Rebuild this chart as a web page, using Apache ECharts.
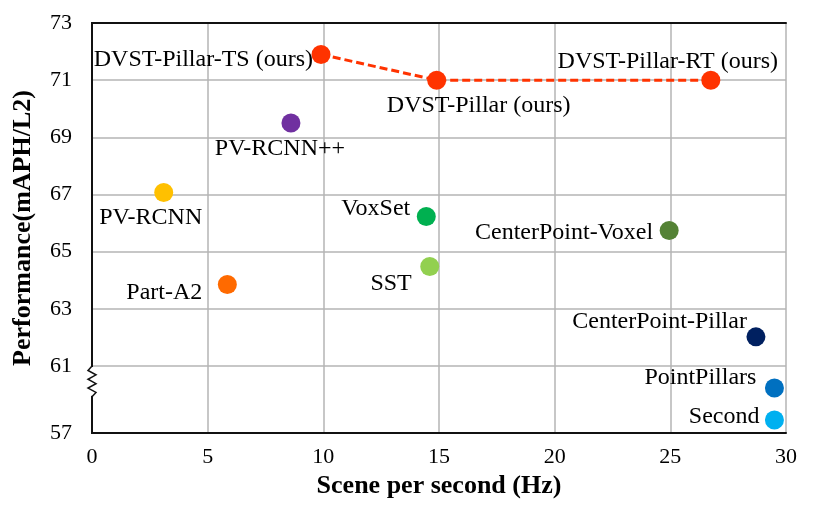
<!DOCTYPE html>
<html>
<head>
  <meta charset="utf-8">
  <title>Speed vs performance</title>
  <script src="https://cdn.jsdelivr.net/npm/echarts@6/dist/echarts.min.js"></script>
</head>
<body style="margin:0;background:#fff">
<div id="main" style="width:828px;height:513px;"></div>

<script type="text/javascript">
  // our models (joined by the dashed line)
  const oursNames = ['DVST-Pillar-TS (ours)', 'DVST-Pillar (ours)', 'DVST-Pillar-RT (ours)'];
  const oursFps = [9.9, 14.9, 26.75];
  const oursPerf = [71.9, 71.0, 71.0];

  // other detectors
  const otherNames = ['PV-RCNN++', 'PV-RCNN', 'VoxSet', 'CenterPoint-Voxel', 'SST', 'Part-A2',
    'CenterPoint-Pillar', 'PointPillars', 'Second'];
  const otherFps = [8.6, 3.1, 14.45, 24.95, 14.6, 5.85, 28.7, 29.5, 29.5];
  const otherPerf = [69.5, 67.07, 66.23, 65.74, 64.48, 63.85, 62.02, 59.69, 57.78];

  const yTickLabels = [57, 61, 63, 65, 67, 69, 71, 73];

  // colours / label placement (align, dx, dy from point)
  const otherColors = ['#7030A0', '#FFC000', '#00B050', '#548235', '#92D050', '#FF6A00',
    '#002060', '#0070C0', '#00B0F0'];
  const oursLabelPos = [['right', -8, 5], ['center', 42, 26], ['center', -43, -18]];
  const otherLabelPos = [['center', -11, 26], ['center', -13, 25], ['right', -16, -8],
    ['right', -16, 2], ['right', -18, 17], ['right', -25, 8], ['right', -9, -15],
    ['right', -18, -10], ['right', -15, -3]];

  // broken axis: 57..61 is squeezed into a shorter span
  const BREAK = 61;
  const LOW_SCALE = 0.5857;
  function disp(v) {
    return v >= BREAK ? v : BREAK - (BREAK - v) * LOW_SCALE;
  }
  const yMin = disp(yTickLabels[0]);
  const yTicks = yTickLabels.map(disp);

  const FONT = '"Liberation Serif", "Times New Roman", serif';

  function makeLabel(p) {
    return {
      show: true,
      formatter: '{b}',
      position: 'inside',
      align: p[0],
      verticalAlign: 'middle',
      offset: [p[1], p[2]],
      color: '#000',
      fontFamily: FONT,
      fontSize: 24
    };
  }

  let oursData = oursNames.map(function (n, i) {
    return {name: n, value: [oursFps[i], disp(oursPerf[i])], label: makeLabel(oursLabelPos[i])};
  });
  let otherData = otherNames.map(function (n, i) {
    return {
      name: n,
      value: [otherFps[i], disp(otherPerf[i])],
      itemStyle: {color: otherColors[i], opacity: 1},
      label: makeLabel(otherLabelPos[i])
    };
  });

  const frameLine = {show: true, lineStyle: {color: '#111', width: 2}};
  const titleStyle = {fontFamily: FONT, fontSize: 26, fontWeight: 'bold', color: '#000'};
  const gridLine = {lineStyle: {color: '#B4B4B4', width: 1.5}};

  let myChart = echarts.init(document.getElementById('main'));
  let option = {
    animation: false,
    grid: {left: 92, right: 42, top: 23, bottom: 80},
    xAxis: [{
      type: 'value',
      min: 0, max: 30, interval: 5,
      name: 'Scene per second (Hz)',
      nameLocation: 'middle',
      nameGap: 37,
      nameTextStyle: titleStyle,
      axisLine: frameLine,
      axisTick: {show: false},
      axisLabel: {fontFamily: FONT, fontSize: 22, color: '#000', margin: 13},
      splitLine: gridLine
    }, {
      type: 'value', position: 'top',
      min: 0, max: 30, interval: 5,
      axisLine: frameLine, axisTick: {show: false}, axisLabel: {show: false}, splitLine: {show: false}
    }],
    yAxis: [{
      type: 'value',
      min: yMin, max: 73,
      name: 'Performance(mAPH/L2)',
      nameLocation: 'middle',
      nameGap: 56,
      nameTextStyle: titleStyle,
      axisLine: frameLine,
      axisTick: {show: false, customValues: yTicks},
      axisLabel: {
        fontFamily: FONT, fontSize: 22, color: '#000', margin: 20,
        customValues: yTicks,
        formatter: function (v) {
          let i = yTicks.findIndex(function (t) { return Math.abs(t - v) < 1e-6; });
          return i >= 0 ? String(yTickLabels[i]) : '';
        }
      },
      splitLine: gridLine
    }, {
      type: 'value', position: 'right',
      min: yMin, max: 73,
      axisLine: frameLine, axisTick: {show: false}, axisLabel: {show: false}, splitLine: {show: false}
    }],
    series: [
      {
        type: 'line',
        data: oursData,
        symbol: 'circle',
        symbolSize: 19,
        itemStyle: {color: '#FF3300', opacity: 1},
        lineStyle: {color: '#FF3300', width: 3, type: [8, 4]},
        z: 3
      },
      {
        type: 'scatter',
        data: otherData,
        symbolSize: 19,
        z: 4
      }
    ]
  };
  myChart.setOption(option);

  // zigzag break mark on the y axis
  let brkTop = myChart.convertToPixel({gridIndex: 0}, [0, BREAK]);
  let brkBot = myChart.convertToPixel({gridIndex: 0}, [0, yMin]);
  let x0 = brkTop[0];
  let y0 = brkTop[1];
  let h = (brkBot[1] - y0) * 0.46;
  let pts = [[x0, y0]];
  let n = 7;
  for (let k = 1; k < n; k++) {
    pts.push([x0 + (k % 2 ? -4 : 4), y0 + h * k / n]);
  }
  pts.push([x0, y0 + h]);
  myChart.setOption({
    graphic: [
      {type: 'rect', shape: {x: x0 - 3, y: y0 + 1, width: 6, height: h - 2}, style: {fill: '#fff'}, z: 10},
      {type: 'polyline', shape: {points: pts}, style: {stroke: '#111', lineWidth: 1.5, fill: null}, z: 11}
    ]
  });
</script>
</body>
</html>
